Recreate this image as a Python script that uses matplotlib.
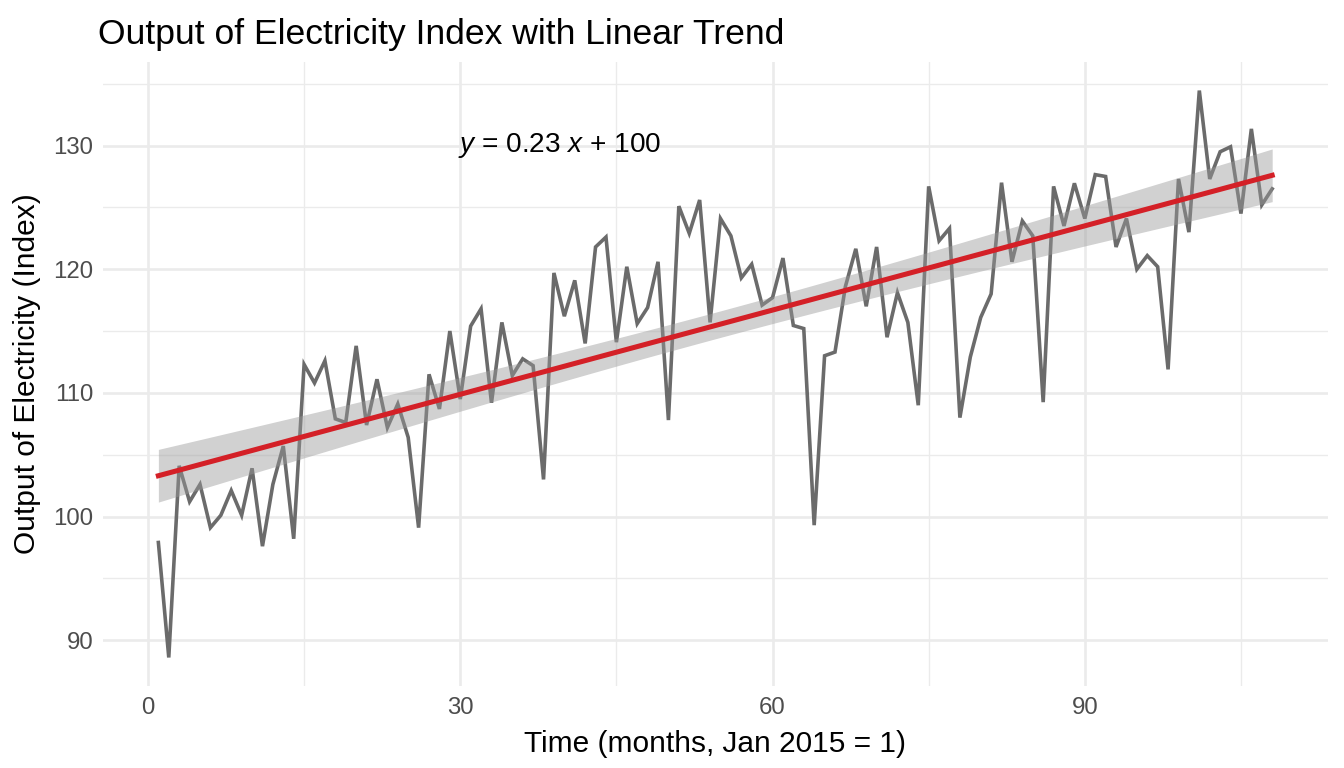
#!/usr/bin/env python3
"""Output of electricity index with a fitted linear trend and 95% band."""

import numpy as np
import matplotlib as mpl
import matplotlib.pyplot as plt

MONTHS = list(range(1, 109))
OUTPUT_INDEX = [
    97.9, 88.6, 104.1, 101.2, 102.6, 99.1, 100.1, 102.1, 100.1, 103.9,
    97.6, 102.6, 105.7, 98.2, 112.3, 110.8, 112.6, 107.9, 107.6, 113.8,
    107.4, 111.1, 107.2, 109.1, 106.4, 99.1, 111.5, 108.7, 115.0, 109.5,
    115.4, 116.8, 109.2, 115.7, 111.4, 112.75, 112.2, 103.0, 119.7, 116.2,
    119.1, 114.0, 121.8, 122.6, 114.1, 120.2, 115.6, 116.9, 120.6, 107.8,
    125.1, 122.9, 125.6, 115.7, 124.1, 122.7, 119.3, 120.4, 117.1, 117.7,
    120.9, 115.45, 115.2, 99.3, 113.0, 113.3, 118.6, 121.65, 117.0, 121.8,
    114.5, 118.1, 115.7, 109.0, 126.7, 122.3, 123.3, 108.0, 112.9, 116.1,
    118.0, 127.0, 120.6, 123.9, 122.7, 109.25, 126.7, 123.5, 126.95, 124.1,
    127.65, 127.5, 121.8, 124.1, 120.0, 121.1, 120.2, 111.9, 127.3, 123.0,
    134.45, 127.3, 129.5, 129.9, 124.5, 131.35, 125.2, 126.5,
]
X_TICKS = [0, 30, 60, 90]
Y_TICKS = [90, 100, 110, 120, 130]
T975 = 1.9826  # t quantile, 106 df


def signif(value, digits=2):
    return float(f"{value:.{digits}g}")


def fmt(value):
    return str(int(value)) if float(value).is_integer() else str(value)


def main() -> None:
    mpl.rcParams.update({
        "font.family": "Liberation Sans",
        "mathtext.fontset": "custom",
        "mathtext.rm": "Liberation Sans",
        "mathtext.it": "Liberation Sans:italic",
    })
    x = np.array(MONTHS, dtype=float)
    y = np.array(OUTPUT_INDEX)
    slope, intercept = np.polyfit(x, y, 1)
    resid = y - (slope * x + intercept)
    n = len(x)
    sigma = np.sqrt(np.sum(resid ** 2) / (n - 2))
    xs = np.linspace(x.min(), x.max(), 200)
    fit = slope * xs + intercept
    se = sigma * np.sqrt(1 / n + (xs - x.mean()) ** 2 / np.sum((x - x.mean()) ** 2))

    fig = plt.figure(figsize=(7, 4), dpi=192)
    ax = fig.add_axes([0.0764, 0.107, 0.988 - 0.0764, 0.919 - 0.107])
    grid = "#EBEBEB"
    ax.set_xticks(X_TICKS)
    ax.set_yticks(Y_TICKS)
    ax.set_xticks([15, 45, 75, 105], minor=True)
    ax.set_yticks([95, 105, 115, 125, 135], minor=True)
    ax.grid(True, which="major", color=grid, linewidth=1.0)
    ax.grid(True, which="minor", color=grid, linewidth=0.5)
    ax.set_axisbelow(True)
    for spine in ax.spines.values():
        spine.set_visible(False)
    ax.tick_params(which="both", length=0, labelsize=9, labelcolor="#4D4D4D", pad=3.5)
    ax.tick_params(axis="x", pad=4.2)

    ax.plot(x, y, color="#6B6B6B", linewidth=1.35, solid_joinstyle="miter", zorder=2)
    ax.fill_between(xs, fit - T975 * se, fit + T975 * se, color="#999999", alpha=0.45,
                    linewidth=0, zorder=3)
    ax.plot(xs, fit, color="#D42027", linewidth=1.9, zorder=4)

    span_x = x.max() - x.min()
    span_y = y.max() - y.min()
    ax.set_xlim(x.min() - 0.05 * span_x, x.max() + 0.05 * span_x)
    ax.set_ylim(y.min() - 0.05 * span_y, y.max() + 0.05 * span_y)

    label = f"$y$ = {fmt(signif(slope))} $x$ + {fmt(signif(intercept))}"
    ax.text(29.8, 130, label, fontsize=10.5, ha="left", va="center", color="black")

    ax.set_xlabel("Time (months, Jan 2015 = 1)", fontsize=11.2, labelpad=4)
    ax.set_ylabel("Output of Electricity (Index)", fontsize=11.2, labelpad=4.5)
    ax.set_title("Output of Electricity Index with Linear Trend", loc="left",
                 fontsize=13.3, pad=7, x=-0.004)

    fig.savefig("out.png", dpi=192)
    plt.close(fig)


if __name__ == "__main__":
    main()
